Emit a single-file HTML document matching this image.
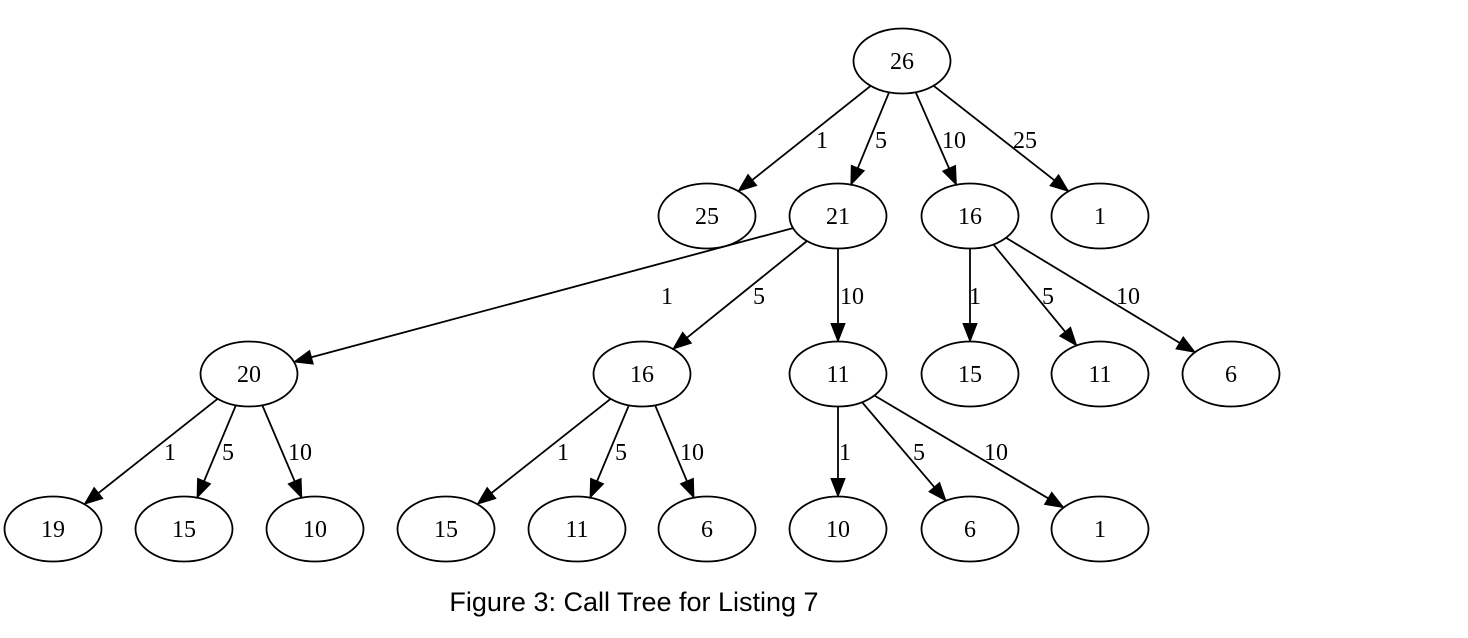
<!DOCTYPE html>
<html><head><meta charset="utf-8"><style>
body{margin:0;background:#fff;width:1468px;height:638px;overflow:hidden}
svg{position:absolute;left:0;top:0}
text{font-family:"Liberation Serif",serif;font-size:24px;fill:#000}
.cap{font-family:"Liberation Sans",sans-serif;font-size:27px}
</style></head><body>
<svg id="s" width="1468" height="638" xmlns="http://www.w3.org/2000/svg"></svg>
<script>
const N={a:[902,61,'26'],b:[707,216,'25'],c:[838,216,'21'],d:[970,216,'16'],e:[1100,216,'1'],
f:[249,374,'20'],g:[642,374,'16'],h:[838,374,'11'],i:[970,374,'15'],j:[1100,374,'11'],k:[1231,374,'6'],
l:[53,529,'19'],m:[184,529,'15'],n:[315,529,'10'],o:[446,529,'15'],p:[577,529,'11'],q:[707,529,'6'],
r:[838,529,'10'],s:[970,529,'6'],t:[1100,529,'1']};
const E=[['a','b','1',822,140],['a','c','5',881,140],['a','d','10',954,140],['a','e','25',1025,140],
['c','f','1',667,296],['c','g','5',759,296],['c','h','10',852,296],['d','i','1',975,296],['d','j','5',1048,296],['d','k','10',1128,296],
['f','l','1',170,452],['f','m','5',228,452],['f','n','10',300,452],['g','o','1',563,452],['g','p','5',621,452],['g','q','10',692,452],
['h','r','1',845,452],['h','s','5',919,452],['h','t','10',996,452]];
const RX=48.5,RY=32.5;let h='';
function clip(x,y,dx,dy){const L=Math.hypot(dx,dy),ux=dx/L,uy=dy/L;const t=1/Math.sqrt((ux/RX)**2+(uy/RY)**2);return [x+ux*t,y+uy*t,ux,uy];}
for(const [p,c,l,lx,ly] of E){const [x1,y1]=N[p],[x2,y2]=N[c];
const s=clip(x1,y1,x2-x1,y2-y1),e=clip(x2,y2,x1-x2,y1-y2);
const ux=s[2],uy=s[3],tx=e[0],ty=e[1],bx=tx-ux*18,by=ty-uy*18,px=-uy*7,py=ux*7;
h+=`<line x1="${s[0]}" y1="${s[1]}" x2="${bx}" y2="${by}" stroke="#000" stroke-width="1.8"/>`;
h+=`<polygon points="${tx},${ty} ${bx+px},${by+py} ${bx-px},${by-py}" fill="#000" stroke="#000"/>`;
h+=`<text x="${lx}" y="${ly+8}" text-anchor="middle">${l}</text>`;}
for(const k in N){const [x,y,t]=N[k];h+=`<ellipse cx="${x}" cy="${y}" rx="${RX}" ry="${RY}" fill="none" stroke="#000" stroke-width="1.8"/><text x="${x}" y="${y+8}" text-anchor="middle">${t}</text>`;}
h+=`<text class="cap" x="634" y="611" text-anchor="middle">Figure 3: Call Tree for Listing 7</text>`;
document.getElementById('s').innerHTML=h;
</script>
</body></html>
